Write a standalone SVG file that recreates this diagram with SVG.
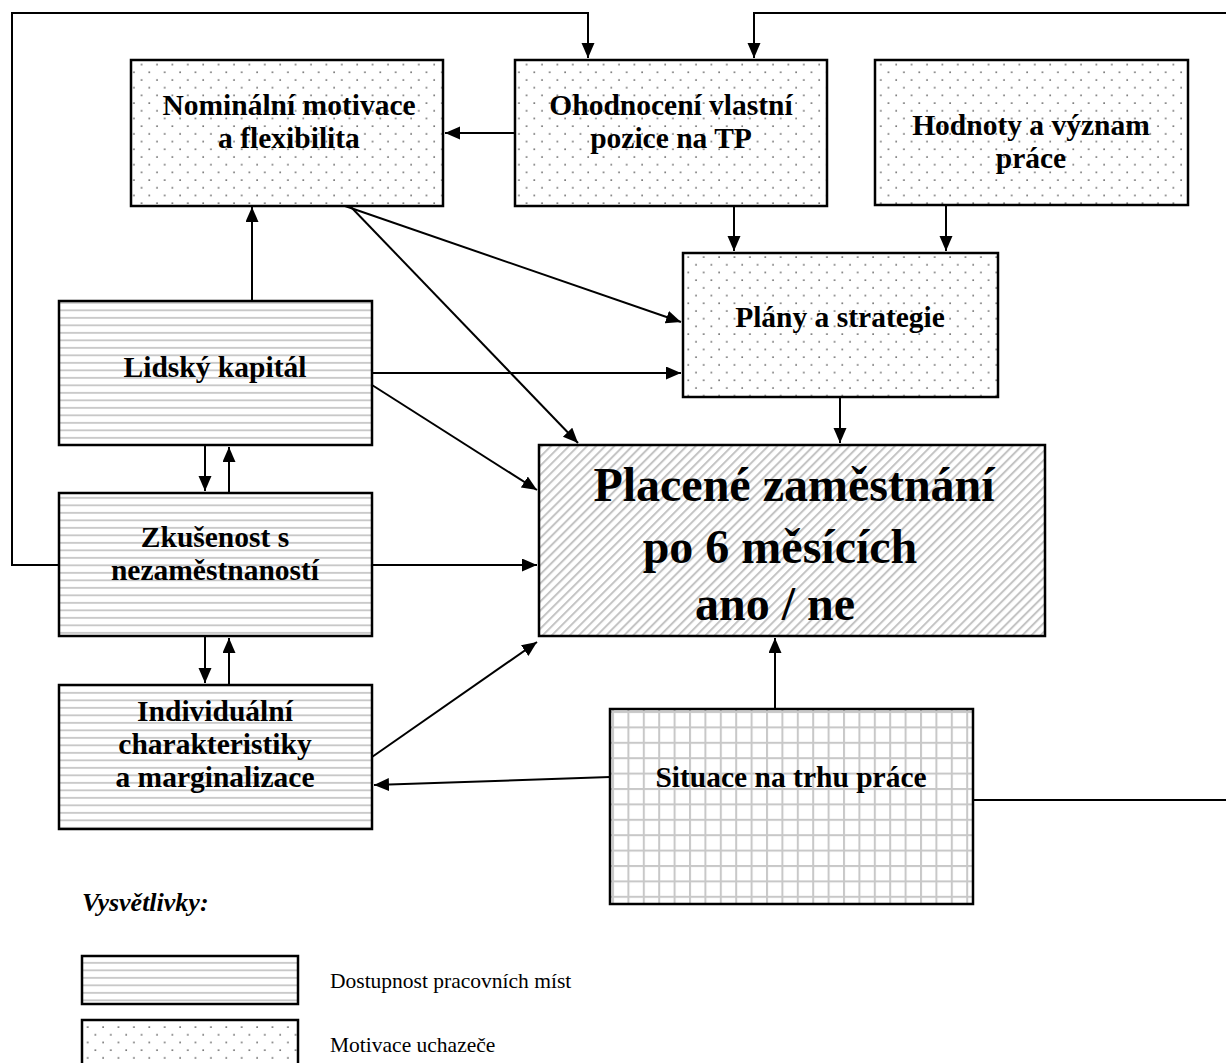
<svg xmlns="http://www.w3.org/2000/svg" width="1226" height="1063" viewBox="0 0 1226 1063">
<style>
.box{stroke:#000;stroke-width:2.5}
.t{font-family:"Liberation Serif","Times New Roman",serif;font-weight:bold;font-size:29.5px;fill:#000;text-anchor:middle}
.big{font-size:48px}
.c{fill:none;stroke:#000;stroke-width:2}
.leg{font-family:"Liberation Serif","Times New Roman",serif;font-size:21.5px;fill:#000}
</style>
<defs>
<pattern id="dots" patternUnits="userSpaceOnUse" width="15.4" height="15.4">
<rect width="15.4" height="15.4" fill="#fff"/>
<circle cx="3" cy="3" r="0.9" fill="#555"/>
<circle cx="10.7" cy="10.7" r="0.9" fill="#555"/>
</pattern>
<pattern id="hl" patternUnits="userSpaceOnUse" width="10" height="7.5">
<rect width="10" height="7.5" fill="#fff"/>
<rect y="2" width="10" height="1.7" fill="#c4c4c4"/>
</pattern>
<pattern id="diag" patternUnits="userSpaceOnUse" width="6.4" height="6.4" patternTransform="rotate(45)">
<rect width="6.4" height="6.4" fill="#fff"/>
<rect x="0" width="2" height="6.4" fill="#c4c4c4"/>
</pattern>
<pattern id="grid" patternUnits="userSpaceOnUse" width="15.4" height="15.4" x="612" y="711">
<rect width="15.4" height="15.4" fill="#fff"/>
<rect x="0" width="2" height="15.4" fill="#c8c8c8"/>
<rect y="0" width="15.4" height="2" fill="#c8c8c8"/>
</pattern>
<marker id="ar" markerUnits="userSpaceOnUse" markerWidth="16" markerHeight="14" refX="15" refY="6.5" orient="auto">
<path d="M0,0 L15,6.5 L0,13 Z" fill="#000"/>
</marker>
</defs>
<rect width="1226" height="1063" fill="#fff"/>

<g id="connectors">
<path class="c" d="M515,133 H445" marker-end="url(#ar)"/>
<path class="c" d="M59,565 H12 V13 H588 V58" marker-end="url(#ar)"/>
<path class="c" d="M973,800 H1240 V13 H754 V58" marker-end="url(#ar)"/>
<path class="c" d="M734,207 V251" marker-end="url(#ar)"/>
<path class="c" d="M946,205 V251" marker-end="url(#ar)"/>
<path class="c" d="M345,206 L681,322" marker-end="url(#ar)"/>
<path class="c" d="M350,206 L578,443" marker-end="url(#ar)"/>
<path class="c" d="M252,301 V207" marker-end="url(#ar)"/>
<path class="c" d="M372,373 H681" marker-end="url(#ar)"/>
<path class="c" d="M372,385 L537,490" marker-end="url(#ar)"/>
<path class="c" d="M840,397 V443" marker-end="url(#ar)"/>
<path class="c" d="M205,445 V491" marker-end="url(#ar)"/>
<path class="c" d="M229,493 V447" marker-end="url(#ar)"/>
<path class="c" d="M372,565 H537" marker-end="url(#ar)"/>
<path class="c" d="M205,636 V683" marker-end="url(#ar)"/>
<path class="c" d="M229,685 V638" marker-end="url(#ar)"/>
<path class="c" d="M372,757 L537,642" marker-end="url(#ar)"/>
<path class="c" d="M610,777 L374,785" marker-end="url(#ar)"/>
<path class="c" d="M775,709 V638" marker-end="url(#ar)"/>
</g>

<g id="nominalni">
<rect class="box" x="131" y="60" width="312" height="146" fill="url(#dots)"/>
<text class="t" x="289" y="115">Nominální motivace</text>
<text class="t" x="289" y="148">a flexibilita</text>
</g>
<g id="ohodnoceni">
<rect class="box" x="515" y="60" width="312" height="146" fill="url(#dots)"/>
<text class="t" x="671" y="115">Ohodnocení vlastní</text>
<text class="t" x="671" y="148">pozice na TP</text>
</g>
<g id="hodnoty">
<rect class="box" x="875" y="60" width="313" height="145" fill="url(#dots)"/>
<text class="t" x="1031" y="135">Hodnoty a význam</text>
<text class="t" x="1031" y="168">práce</text>
</g>
<g id="plany">
<rect class="box" x="683" y="253" width="315" height="144" fill="url(#dots)"/>
<text class="t" x="840" y="327">Plány a strategie</text>
</g>
<g id="lidsky">
<rect class="box" x="59" y="301" width="313" height="144" fill="url(#hl)"/>
<text class="t" x="215" y="377">Lidský kapitál</text>
</g>
<g id="zkusenost">
<rect class="box" x="59" y="493" width="313" height="143" fill="url(#hl)"/>
<text class="t" x="215" y="547">Zkušenost s</text>
<text class="t" x="215" y="580">nezaměstnaností</text>
</g>
<g id="individualni">
<rect class="box" x="59" y="685" width="313" height="144" fill="url(#hl)"/>
<text class="t" x="215" y="721">Individuální</text>
<text class="t" x="215" y="754">charakteristiky</text>
<text class="t" x="215" y="787">a marginalizace</text>
</g>
<g id="placene">
<rect class="box" x="539" y="445" width="506" height="191" fill="url(#diag)"/>
<text class="t big" x="794" y="501">Placené zaměstnání</text>
<text class="t big" x="780" y="563">po 6 měsících</text>
<text class="t big" x="775" y="620">ano / ne</text>
</g>
<g id="situace">
<rect class="box" x="610" y="709" width="363" height="195" fill="url(#grid)"/>
<text class="t" x="791" y="787">Situace na trhu práce</text>
</g>

<g id="legend">
<text x="82" y="911" style="font-family:'Liberation Serif','Times New Roman',serif;font-weight:bold;font-style:italic;font-size:26px">Vysvětlivky:</text>
<rect class="box" x="82" y="956" width="216" height="48" fill="url(#hl)"/>
<text class="leg" x="330" y="988">Dostupnost pracovních míst</text>
<rect class="box" x="82" y="1020" width="216" height="48" fill="url(#dots)"/>
<text class="leg" x="330" y="1052">Motivace uchazeče</text>
</g>
</svg>
